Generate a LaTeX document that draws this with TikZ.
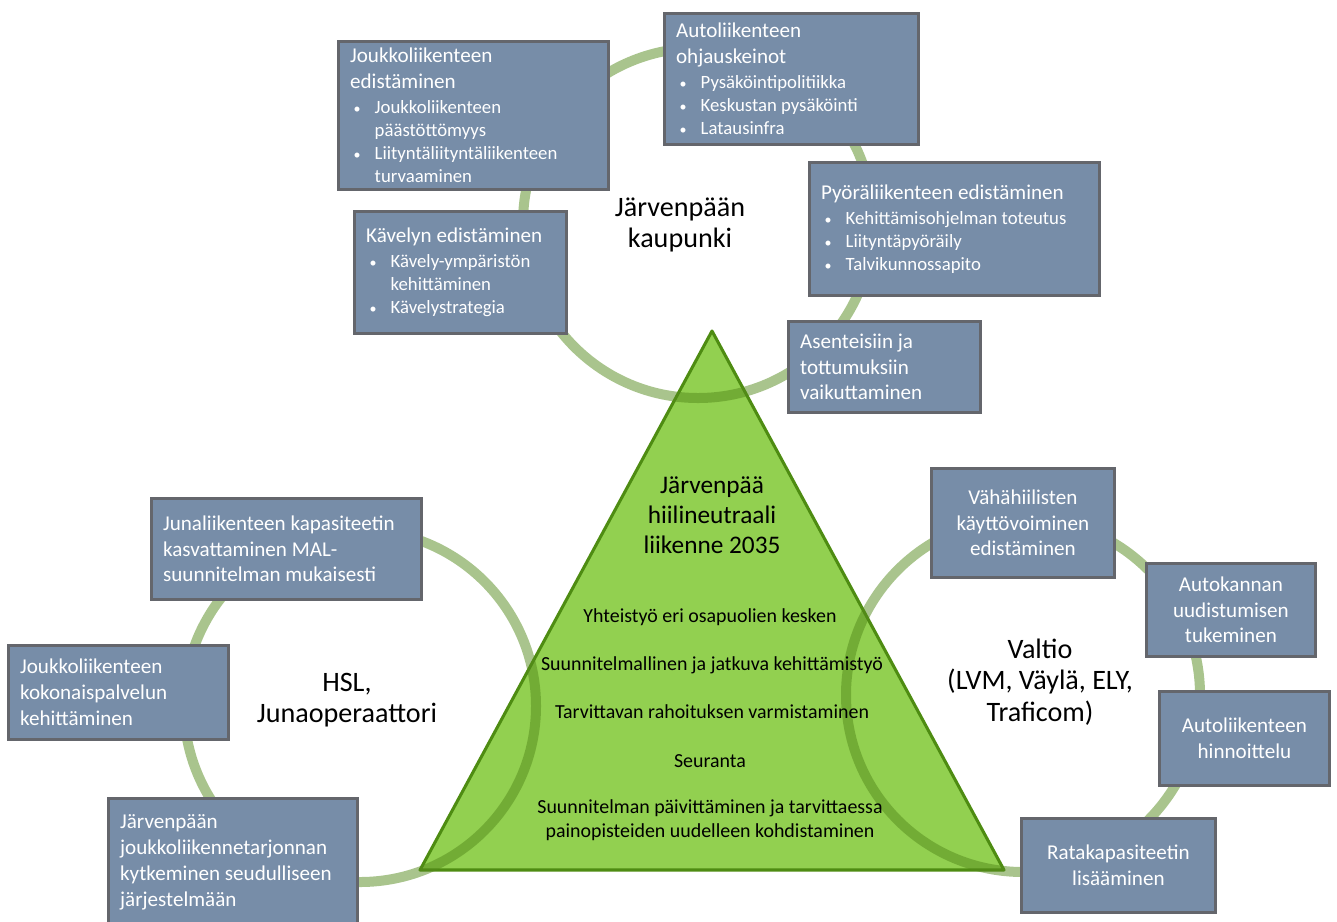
\documentclass[tikz,border=0pt]{standalone}
\usepackage{fontspec}
\setmainfont{Carlito}
\usetikzlibrary{positioning}

\definecolor{boxblue}{RGB}{119,141,168}
\definecolor{boxedge}{RGB}{100,102,108}
\definecolor{trifill}{RGB}{146,208,80}
\definecolor{triedge}{RGB}{78,140,18}
\definecolor{ringgreen}{RGB}{84,138,28}

% bullet line and box heading
\newcommand{\bl}[1]{\par\hangindent=10.5pt\hangafter=1\noindent\makebox[10.5pt][l]{\hspace{1.5pt}{\fontsize{6}{6}\selectfont\textbullet}}#1\par}
\newcommand{\hd}[1]{{\fontsize{9}{11}\selectfont #1\par}\vspace{0.8pt}\fontsize{8}{9.8}\selectfont}

\begin{document}
\begin{tikzpicture}[x=0.015cm, y=-0.015cm,
    tbox/.style 2 args={draw=boxedge, line width=1.2pt, fill=boxblue, text=white,
      anchor=north west, inner xsep=5pt, inner ysep=2pt, align=flush left,
      minimum width=#1*0.015cm, minimum height=#2*0.015cm,
      text width=#1*0.015cm-10pt, font=\fontsize{9}{11}\selectfont},
    ring/.style={draw=ringgreen, draw opacity=0.5, line width=0.15cm},
    circlabel/.style={align=center, font=\fontsize{12}{13.5}\selectfont},
    goaltext/.style={align=center, font=\fontsize{10.8}{12.8}\selectfont},
    itemtext/.style={align=center, font=\fontsize{8.5}{10.2}\selectfont}]
    \useasboundingbox (0,0) rectangle (1337,921);

    % Triangle
    \coordinate (apex) at (712,331);
    \coordinate (lcorner) at (420,870);
    \coordinate (rcorner) at (1004,870);
    \filldraw[fill=trifill, draw=triedge, line width=1.3pt, line join=round] (apex) -- (lcorner) -- (rcorner) -- cycle;

    % Rings
    \draw[ring] (698,223) circle[radius=2.625cm];
    \draw[ring] (360,706) circle[radius=2.64cm];
    \draw[ring] (1023,695) circle[radius=2.655cm];

    % Text in the triangle
    \node[goaltext] (goal) at (712,515) {Järvenpää\\hiilineutraali\\liikenne 2035};
    \node[itemtext] (yht) at (710,617) {Yhteistyö eri osapuolien kesken};
    \node[itemtext] (suu) at (712,665) {Suunnitelmallinen ja jatkuva kehittämistyö};
    \node[itemtext] (rah) at (712,712) {Tarvittavan rahoituksen varmistaminen};
    \node[itemtext] (seu) at (710,761) {Seuranta};
    \node[itemtext] (pai) at (710,820) {Suunnitelman päivittäminen ja tarvittaessa\\painopisteiden uudelleen kohdistaminen};

    % Ring labels
    \node[circlabel] (kaup) at (680,225) {Järvenpään\\kaupunki};
    \node[circlabel] (hsl) at (347,700) {HSL,\\Junaoperaattori};
    \node[circlabel] (valt) at (1040,682) {Valtio\\(LVM, Väylä, ELY,\\Traficom)};

    % Järvenpään kaupunki
    \node[tbox={270}{148}] (jlk) at (337,40) {\hd{Joukkoliikenteen\\edistäminen}\bl{Joukkoliikenteen\newline päästöttömyys}\bl{Liityntäliityntäliikenteen\newline turvaaminen}};
    \node[tbox={254}{131}] (aoh) at (663,12) {\hd{Autoliikenteen\\ohjauskeinot}\bl{Pysäköintipolitiikka}\bl{Keskustan pysäköinti}\bl{Latausinfra}};
    \node[tbox={290}{133}] (pyo) at (808,161) {\hd{Pyöräliikenteen edistäminen}\bl{Kehittämisohjelman toteutus}\bl{Liityntäpyöräily}\bl{Talvikunnossapito}};
    \node[tbox={212}{122}] (kav) at (353,210) {\hd{Kävelyn edistäminen}\bl{Kävely-ympäristön\newline kehittäminen}\bl{Kävelystrategia}};
    \node[tbox={192}{91}] (ase) at (787,320) {Asenteisiin ja\\tottumuksiin\\vaikuttaminen};

    % HSL, Junaoperaattori
    \node[tbox={270}{101}] (jun) at (150,497) {Junaliikenteen kapasiteetin\\kasvattaminen MAL-\\suunnitelman mukaisesti};
    \node[tbox={220}{94}] (jkp) at (7,644) {Joukkoliikenteen\\kokonaispalvelun\\kehittäminen};
    \node[tbox={249}{128}] (jyk) at (107,797) {Järvenpään\\joukkoliikennetarjonnan\\kytkeminen seudulliseen\\järjestelmään};

    % Valtio
    \node[tbox={183}{109}, align=flush center] (vah) at (930,467) {Vähähiilisten\\käyttövoiminen\\edistäminen};
    \node[tbox={169}{93}, align=flush center] (aka) at (1145,562) {Autokannan\\uudistumisen\\tukeminen};
    \node[tbox={170}{94}, align=flush center] (ahi) at (1158,690) {Autoliikenteen\\hinnoittelu};
    \node[tbox={194}{94}, align=flush center] (rat) at (1020,817) {Ratakapasiteetin\\lisääminen};
\end{tikzpicture}
\end{document}
